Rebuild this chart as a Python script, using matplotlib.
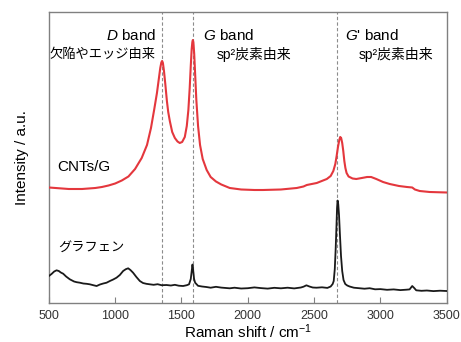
import matplotlib
matplotlib.use('Agg')
import matplotlib.pyplot as plt

plt.rcParams['font.family'] = ['Liberation Sans', 'Noto Sans CJK JP', 'DejaVu Sans']
plt.rcParams['mathtext.fontset'] = 'custom'
plt.rcParams['mathtext.rm'] = 'Liberation Sans'
plt.rcParams['mathtext.it'] = 'Liberation Sans:italic'

# CNTs/G スペクトル (読み取り値: ラマンシフト, 強度)
cnt_pts = [(500, 115.5), (550, 115), (600, 114.5), (650, 114), (700, 114), (750, 114),
           (800, 114.5), (850, 115), (900, 116), (950, 117.5), (1000, 119.5),
           (1050, 122.5), (1100, 126.5), (1150, 134), (1200, 145), (1240, 158),
           (1270, 175), (1295, 194), (1315, 210), (1330, 225), (1340, 235),
           (1348, 240.5), (1354, 242), (1360, 240), (1368, 232), (1378, 219),
           (1390, 202), (1400, 191), (1412, 182), (1430, 171), (1450, 165),
           (1470, 161.5), (1487, 160), (1505, 161), (1525, 166), (1540, 177),
           (1552, 193), (1562, 215), (1570, 237), (1577, 254), (1582, 261),
           (1586, 263), (1590, 260.5), (1596, 249), (1603, 229), (1612, 203),
           (1625, 177), (1640, 158), (1660, 144), (1690, 133), (1720, 126),
           (1760, 121.5), (1800, 118.5), (1864, 115), (1950, 113.5), (2050, 113),
           (2115, 113), (2250, 113.5), (2369, 115), (2420, 116.5), (2445, 118),
           (2520, 120), (2596, 124), (2625, 127), (2645, 132), (2660, 139),
           (2670, 147), (2680, 156), (2690, 163), (2697, 166), (2704, 165),
           (2712, 160), (2720, 152), (2728, 142), (2736, 135), (2745, 130),
           (2760, 126.5), (2790, 124.5), (2818, 124), (2860, 125), (2900, 126),
           (2930, 126), (2969, 124), (3020, 121), (3070, 119), (3140, 117),
           (3200, 116), (3240, 115.5), (3260, 113.5), (3296, 112), (3371, 111),
           (3500, 110.5)]

# グラフェン スペクトル (読み取り値: ラマンシフト, 強度)
gr_pts = [(500, 27), (520, 29), (540, 31.5), (558, 32.7), (575, 32), (590, 30.5),
          (608, 29.3), (630, 26.5), (658, 23.7), (690, 21.5), (710, 20.8),
          (734, 20.3), (760, 19.5), (785, 19.2), (809, 18.7), (835, 17.8),
          (860, 17), (885, 18.5), (910, 19.5), (935, 20.3), (960, 22), (985, 23.5),
          (1010, 25.3), (1035, 28), (1060, 32), (1080, 33.8), (1098, 34.7),
          (1115, 33), (1135, 30.3), (1160, 26), (1186, 22), (1210, 20),
          (1235, 19.2), (1261, 18.7), (1290, 18.2), (1320, 18.8), (1350, 17.8),
          (1387, 18), (1420, 17.5), (1450, 18.2), (1480, 17.3), (1512, 17),
          (1540, 17.8), (1557, 18.7), (1570, 24), (1578, 33), (1583, 38.5),
          (1588, 33), (1595, 24), (1603, 20.3), (1625, 17.2), (1655, 16.5),
          (1688, 16), (1720, 15.3), (1760, 16.2), (1800, 15.4), (1864, 14.7),
          (1900, 15.3), (1950, 14.5), (2000, 14.8), (2050, 15.6), (2100, 14.9),
          (2150, 14.4), (2200, 15.2), (2250, 14.7), (2300, 15.3), (2350, 14.6),
          (2400, 15.5), (2420, 16.3), (2442, 17.7), (2465, 16.5), (2490, 15.5),
          (2518, 15.3), (2560, 15.7), (2600, 15.1), (2625, 16.5), (2640, 19),
          (2648, 22), (2656, 34), (2663, 55), (2669, 78), (2673, 95),
          (2677, 102.5), (2682, 99), (2688, 88), (2695, 68), (2703, 47),
          (2712, 32), (2722, 23), (2735, 19), (2750, 17.5), (2768, 16.5),
          (2800, 15.3), (2840, 14.8), (2880, 14.3), (2919, 14.8), (2960, 13.7),
          (3000, 13.9), (3050, 13.2), (3100, 13.6), (3150, 12.9), (3195, 13.3),
          (3220, 13.6), (3240, 17), (3255, 15), (3270, 12.7), (3310, 12.2),
          (3350, 12.5), (3400, 11.9), (3450, 12.3), (3500, 12)]

cnt_x, cnt_y = zip(*cnt_pts)
gr_x, gr_y = zip(*gr_pts)

band_pos = [1350, 1585, 2673]

fig = plt.figure(figsize=(4.61, 3.42), dpi=100)
ax = fig.add_axes([0.106, 0.114, 0.863, 0.851])

for p in band_pos:
    ax.axvline(p, color='#8c8c8c', lw=0.8, ls=(0, (3, 2)), zorder=1)

ax.plot(cnt_x, cnt_y, color='#e4373d', lw=1.5, zorder=3)
ax.plot(gr_x, gr_y, color='#1a1a1a', lw=1.3, zorder=3)

ax.set_xlim(500, 3500)
ax.set_ylim(0, 291)
ax.set_xticks([500, 1000, 1500, 2000, 2500, 3000, 3500])
ax.set_yticks([])
ax.tick_params(axis='x', direction='in', length=4, color='#808080',
               labelsize=9, labelcolor='#333333', pad=5)
for s in ax.spines.values():
    s.set_color('#808080')
    s.set_linewidth(1.0)

ax.set_xlabel('Raman shift / cm$^{-1}$', fontsize=11, labelpad=0)
ax.set_ylabel('Intensity / a.u.', fontsize=11, labelpad=14)

ax.text(1306, 267, '$\\mathit{D}$ band', ha='right', va='center', fontsize=11)
ax.text(1306, 248, '欠陥やエッジ由来', ha='right', va='center', fontsize=9.5)
ax.text(1661, 267, '$\\mathit{G}$ band', ha='left', va='center', fontsize=11)
ax.text(1766, 248, 'sp²炭素由来', ha='left', va='center', fontsize=10)
ax.text(2731, 267, "$\\mathit{G}$' band", ha='left', va='center', fontsize=11)
ax.text(2836, 248, 'sp²炭素由来', ha='left', va='center', fontsize=10)
ax.text(566, 136, 'CNTs/G', ha='left', va='center', fontsize=11)
ax.text(568, 55, 'グラフェン', ha='left', va='center', fontsize=9.5)

fig.savefig('out.png', dpi=100)
